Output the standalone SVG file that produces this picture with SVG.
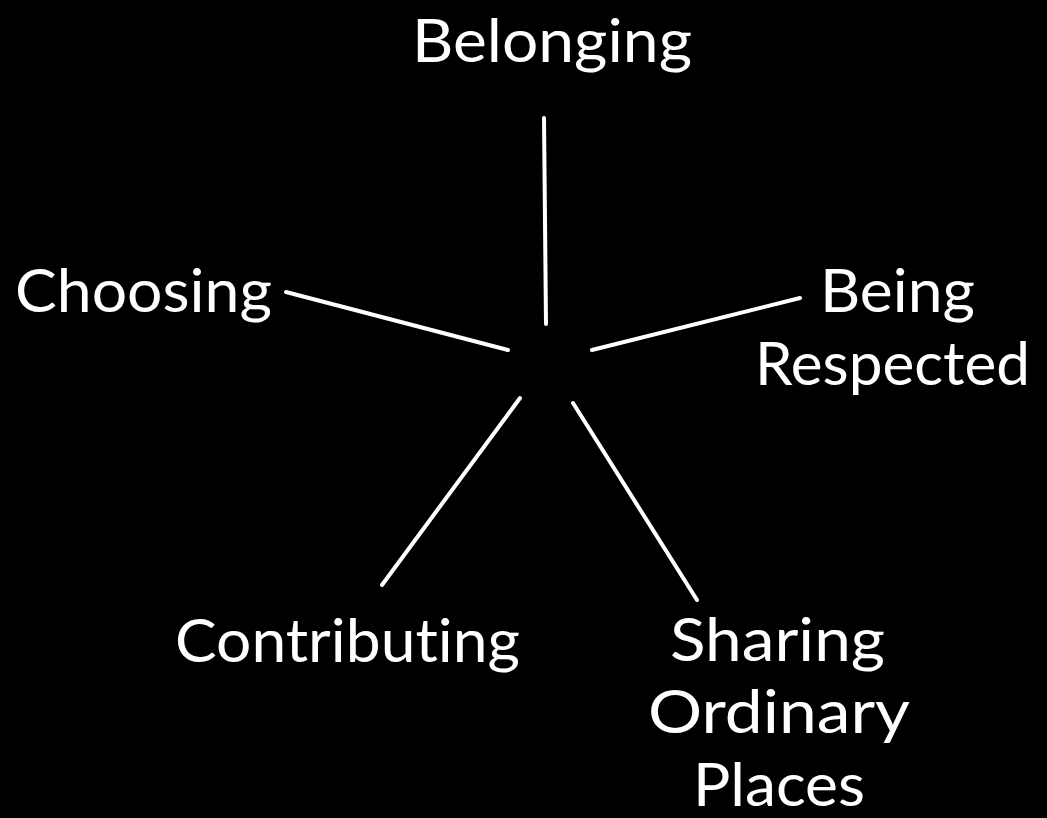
<svg xmlns="http://www.w3.org/2000/svg" width="1047" height="818" viewBox="0 0 1047 818">
<style>
.lbl{font-family:"Lato","Noto Sans","Liberation Sans",sans-serif;font-size:60px;font-weight:400;fill:#ffffff;font-variant-ligatures:none;font-feature-settings:"liga" 0}
.con line{stroke:#ffffff;stroke-width:4;stroke-linecap:round}
</style>
<rect width="1047" height="818" fill="#000000"/>
<g class="con" id="connectors">
<line x1="544" y1="118" x2="546" y2="324"/>
<line x1="286" y1="292" x2="508" y2="350"/>
<line x1="800" y1="298" x2="592" y2="350"/>
<line x1="520" y1="398" x2="382" y2="585"/>
<line x1="573" y1="403" x2="697" y2="600"/>
</g>
<g id="belonging"><text class="lbl" x="412" y="62" textLength="280" lengthAdjust="spacingAndGlyphs">Belonging</text></g>
<g id="choosing"><text class="lbl" x="15" y="312" textLength="257" lengthAdjust="spacingAndGlyphs">Choosing</text></g>
<g id="being-respected">
<text class="lbl" x="820" y="312" textLength="155" lengthAdjust="spacingAndGlyphs">Being</text>
<text class="lbl" x="755" y="385" textLength="275" lengthAdjust="spacingAndGlyphs">Respected</text>
</g>
<g id="contributing"><text class="lbl" x="175" y="662" textLength="345" lengthAdjust="spacingAndGlyphs">Contributing</text></g>
<g id="sharing-ordinary-places">
<text class="lbl" x="670" y="661" textLength="215" lengthAdjust="spacingAndGlyphs">Sharing</text>
<text class="lbl" x="648" y="733" textLength="262" lengthAdjust="spacingAndGlyphs">Ordinary</text>
<text class="lbl" x="693" y="806" textLength="172" lengthAdjust="spacingAndGlyphs">Places</text>
</g>
</svg>
